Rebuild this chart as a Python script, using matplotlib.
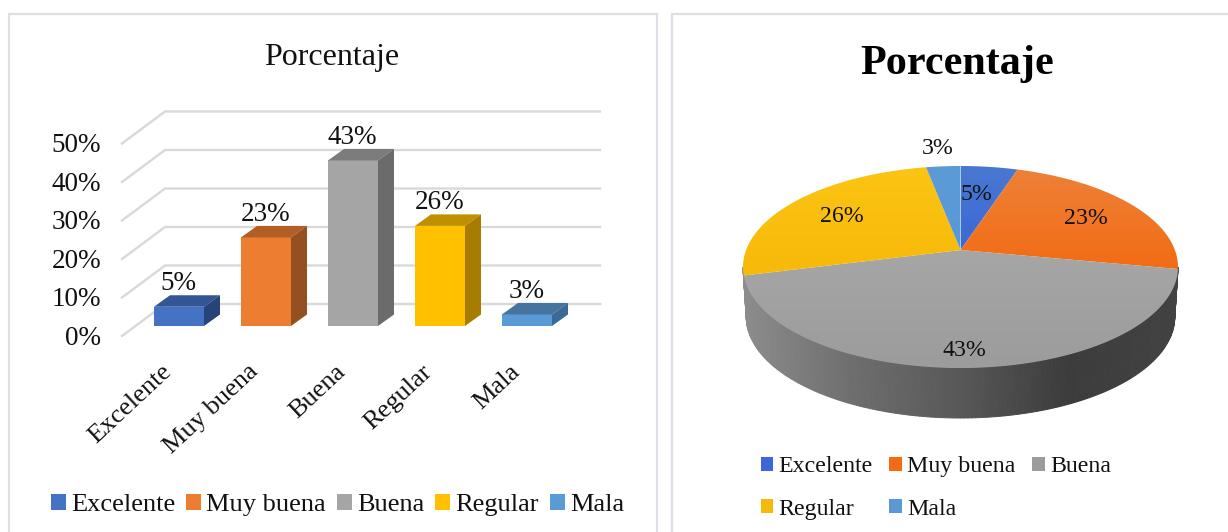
import numpy as np
import matplotlib
matplotlib.use("Agg")
import matplotlib.pyplot as plt
from matplotlib.patches import Rectangle, Patch, Polygon
from matplotlib.colors import LinearSegmentedColormap, to_rgb

categories = ["Excelente", "Muy buena", "Buena", "Regular", "Mala"]
values = [5, 23, 43, 26, 3]
y_ticks = [0, 10, 20, 30, 40, 50]
colors = ["#4472c4", "#ed7d31", "#a5a5a5", "#ffc000", "#5b9bd5"]
tops = ["#335593", "#b25e25", "#7c7c7c", "#bf9000", "#44749f"]
sides = ["#264478", "#95501f", "#6b6b6b", "#a67d00", "#3b6a94"]
pie_light = ["#4a78d0", "#ee8038", "#a6a6a6", "#fcc414", "#5b9bd5"]
pie_dark = ["#3a68d8", "#f26c14", "#9c9c9c", "#f7b90a", "#5a98d6"]

W, H = 1228, 532
plt.rcParams["font.family"] = ["Liberation Serif", "DejaVu Serif"]
fig = plt.figure(figsize=(W / 100, H / 100), dpi=100, facecolor="white")


def rect(x0, y0, x1, y1):
    return [x0 / W, 1 - y1 / H, (x1 - x0) / W, (y1 - y0) / H]


for x0, x1 in [(8.5, 657), (671.5, 1240)]:
    fig.add_artist(Rectangle((x0 / W, -0.05), (x1 - x0) / W, 1.05 - 14 / H, transform=fig.transFigure,
                             facecolor="white", edgecolor="#dcdfe4", linewidth=1.6, zorder=-5))

# ---- left: oblique column chart ----
PXX, PXY, X0, Y0 = 87.0, 3.85, 179.0, 326.0
ax = fig.add_axes(rect(60, 90, 640, 480))
ax.set_xlim((60 - X0) / PXX, (640 - X0) / PXX)
ax.set_ylim((Y0 - 480) / PXY, (Y0 - 90) / PXY)
ax.axis("off")

gx0, gx1, gx2 = (122 - X0) / PXX, (165 - X0) / PXX, (600 - X0) / PXX
front_dy, back_dy = (Y0 - 336) / PXY, (Y0 - 304) / PXY
for v in y_ticks:
    ax.plot([gx0, gx1, gx2], [v + front_dy, v + back_dy, v + back_dy], color="#d9d9d9", lw=1.7,
            solid_joinstyle="miter", zorder=1)
    ax.text((101 - X0) / PXX, v + front_dy + 0.25, f"{v}%", ha="right", va="center_baseline", fontsize=19.5,
            color="#111111")

bw = 50 / PXX
ddx, ddy = 16 / PXX, 11.5 / PXY
for i, (c, v) in enumerate(zip(categories, values)):
    l, r = i - bw / 2, i + bw / 2
    ax.bar(i, v, width=bw, color=colors[i], linewidth=0, zorder=3)
    ax.add_patch(Polygon([(l, v), (r, v), (r + ddx, v + ddy), (l + ddx, v + ddy)], fc=tops[i], ec="none", zorder=3))
    ax.add_patch(Polygon([(r, 0), (r + ddx, ddy), (r + ddx, v + ddy), (r, v)], fc=sides[i], ec="none", zorder=3))
    ax.text(i - 0.01, v + ddy - 0.2, f"{v}%", ha="center", va="bottom", fontsize=19.5, color="#111111", zorder=4)
    ax.text(i - 0.21, -9.0, c, rotation=43, ha="right", va="top", rotation_mode="anchor", fontsize=19,
            color="#111111")

fig.text(332 / W, 1 - 57 / H, "Porcentaje", ha="center", va="center", fontsize=23, color="#111111")
handles = [Patch(facecolor=c, label=n) for c, n in zip(colors, categories)]
fig.legend(handles=handles, ncol=5, loc="center", bbox_to_anchor=(337.5 / W, 1 - 505 / H), frameon=False,
           fontsize=19, handlelength=0.56, handleheight=0.56, handletextpad=0.2, columnspacing=0.42,
           borderpad=0, labelcolor="#111111")

# ---- right: tilted pie ----
CX, CY, A, B = 960.5, 267.0, 217.5, 101.0
TILT, DEPTH = 0.168, 50 / 101
px0, px1, py0, py1 = 730, 1190, 120, 430
pax = fig.add_axes(rect(px0, py0, px1, py1))
pax.axis("off")


def project(theta):
    u, v = np.sin(theta), np.cos(theta)
    d = 1 + TILT * v
    return np.sqrt(1 - TILT ** 2) * u / d, (v + TILT) / d


side_cmap = LinearSegmentedColormap.from_list("side", ["#8c8c8c", "#6e6e6e", "#585858", "#3c3c3c", "#424242"])
ts = np.linspace(np.pi, 2 * np.pi, 181)
for k in range(len(ts) - 1):
    xa, xb = -np.cos(ts[k]), -np.cos(ts[k + 1])
    ya, yb = np.sin(ts[k]), np.sin(ts[k + 1])
    frac = (xa + 1) / 2
    pax.fill([xa, xb, xb * 0.985, xa * 0.985], [ya, yb, yb - DEPTH, ya - DEPTH],
             color=side_cmap(frac), lw=0.7, zorder=2)

edges = np.cumsum([0] + values) / sum(values) * 2 * np.pi
for i in range(len(values)):
    t = np.linspace(edges[i], edges[i + 1], 120)
    qx, qy = project(t)
    xs = np.r_[0, qx]
    ys = np.r_[TILT, qy]
    poly = Polygon(np.c_[xs, ys], fc="none", ec="none", transform=pax.transData)
    pax.add_patch(poly)
    c0, c1 = np.array(to_rgb(pie_light[i])), np.array(to_rgb(pie_dark[i]))
    grad = np.linspace(0, 1, 64)[:, None, None] * (c1 - c0) + c0
    im = pax.imshow(grad, extent=(xs.min(), xs.max(), ys.min(), ys.max()), origin="upper",
                    aspect="auto", zorder=3, interpolation="bilinear")
    im.set_clip_path(poly)
pax.set_xlim((px0 - CX) / A, (px1 - CX) / A)
pax.set_ylim((CY - py1) / B, (CY - py0) / B)

label_px = [(976, 194), (1086, 218), (964, 350), (842, 217), (938, 148)]
for v, (lx, ly) in zip(values, label_px):
    fig.text(lx / W, 1 - ly / H, f"{v}%", ha="center", va="center", fontsize=17.2, color="#111111", zorder=6)

fig.text(957 / W, 1 - 64 / H, "Porcentaje", ha="center", va="center", fontsize=30.3, fontweight="bold", color="black")
order = [0, 3, 1, 4, 2]
handles2 = [Patch(facecolor=pie_dark[j], label=categories[j]) for j in order]
fig.legend(handles=handles2, ncol=3, loc="center", bbox_to_anchor=(936 / W, 1 - 488 / H), frameon=False,
           fontsize=17.2, handlelength=0.54, handleheight=0.54, handletextpad=0.21, columnspacing=0.7,
           labelspacing=0.9, borderpad=0, labelcolor="#111111")

fig.savefig("out.png", dpi=100)
